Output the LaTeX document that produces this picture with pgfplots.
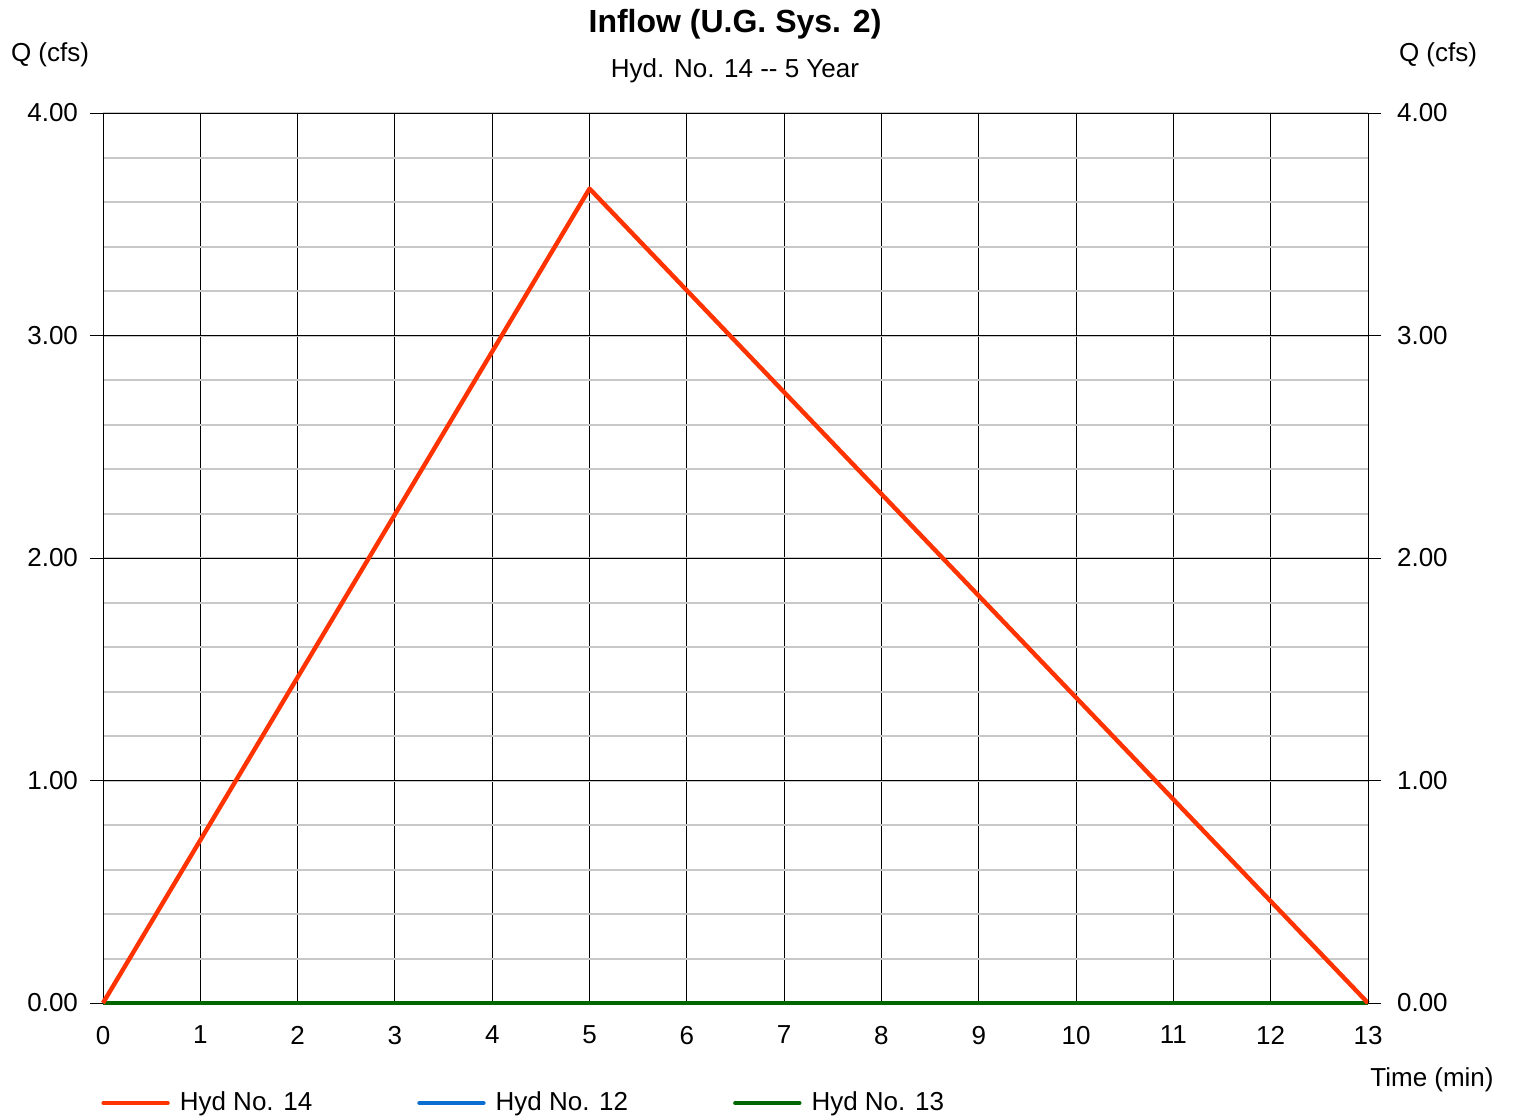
\documentclass[border=0pt]{standalone}
\usepackage{pgfplots}
\pgfplotsset{compat=1.18}
\usepackage{fontspec}
\setmainfont{Liberation Sans}
\definecolor{hred}{HTML}{FF3300}
\definecolor{hblue}{HTML}{0A6ED1}
\definecolor{hgreen}{HTML}{006600}
\definecolor{mgrid}{HTML}{C8C8C8}
\begin{document}
\begin{tikzpicture}
\path[use as bounding box] (-51.5pt,-56.5pt) rectangle (705.5pt,501.5pt);
\pgfplotsset{
  base/.style={
    scale only axis, width=632.5pt, height=445pt,
    at={(0,0)}, anchor=south west,
    xmin=0, xmax=13, ymin=0, ymax=4,
    font=\fontsize{13}{15}\selectfont,
    /pgf/number format/assume math mode=true,
    tick align=outside, major tick length=6.5pt,
    axis line style={black, line width=0.5pt},
  }
}
\begin{axis}[base,
  xtick={0,...,13}, ytick={0,1,2,3,4},
  minor ytick={0.2,0.4,...,3.9},
  yticklabel={\pgfmathprintnumber[fixed,fixed zerofill,precision=2]{\tick}},
  ytick pos=both, xtick pos=bottom,
  x tick style={draw=none},
  y tick style={black, line width=0.5pt},
  minor y tick style={draw=none},
  grid=both,
  major grid style={black, line width=0.5pt},
  minor grid style={mgrid, line width=1pt},
  xticklabel style={yshift=-1.5pt},
  yticklabel style={xshift=-2.5pt},
  legend style={at={(-1pt,-50pt)}, anchor=west, draw=none, fill=none,
    legend columns=3, font=\fontsize{13}{15}\selectfont,
    /tikz/every even column/.append style={column sep=47.5pt},
    inner xsep=0pt, nodes={inner xsep=5pt}},
  legend image code/.code={\draw[#1, line width=2.2pt, line cap=round] (0pt,0pt) -- (32pt,0pt);},
  clip=false,
]
\addlegendimage{hred}
\addlegendentry{Hyd No. 14}
\addlegendimage{hblue}
\addlegendentry{Hyd No. 12}
\addlegendimage{hgreen}
\addlegendentry{Hyd No. 13}
\addplot[hblue, line width=2.4pt, forget plot] coordinates {(0,0) (13,0)};
\addplot[hgreen, line width=2.4pt, forget plot] coordinates {(0,0) (13,0)};
\addplot[hred, line width=2.2pt, line join=round, forget plot] coordinates {(0,0) (5,3.66) (13,0)};
\end{axis}
\begin{axis}[base,
  axis x line=none, axis y line*=right,
  ytick={0,1,2,3,4},
  yticklabel={\pgfmathprintnumber[fixed,fixed zerofill,precision=2]{\tick}},
  y tick style={draw=none},
  yticklabel style={xshift=4.5pt},
]
\addplot[draw=none, forget plot] coordinates {(0,0) (13,4)};
\end{axis}
\node[font=\fontsize{16}{18}\selectfont\bfseries] at (316pt,489.5pt) {Inflow (U.G. Sys. 2)};
\node[font=\fontsize{13}{15}\selectfont] at (316pt,466pt) {Hyd. No. 14 -{}- 5 Year};
\node[font=\fontsize{13}{15}\selectfont] at (-26.5pt,474pt) {Q (cfs)};
\node[font=\fontsize{13}{15}\selectfont] at (667.5pt,474pt) {Q (cfs)};
\node[font=\fontsize{13}{15}\selectfont] at (664.5pt,-38.5pt) {Time (min)};
\end{tikzpicture}
\end{document}
